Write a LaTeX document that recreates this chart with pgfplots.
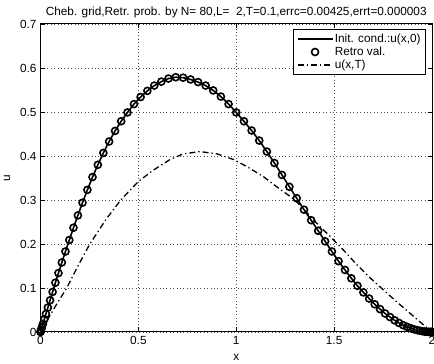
\documentclass[border=0pt]{standalone}
\usepackage{fontspec}
\setmainfont{Liberation Sans}
\usepackage{pgfplots}
\pgfplotsset{compat=1.18}
\usepackage{pgfplotstable}

\pgfplotsset{
  lineleg/.style={legend image code/.code={\draw[##1] (0bp,0bp) -- (35bp,0bp);}},
  markleg/.style={legend image code/.code={\draw[##1] plot coordinates {(17.5bp,0bp)};}},
}

\pgfplotstableread{
x u
0 0
0.00077 0.0012
0.00308 0.0046
0.00693 0.0104
0.01231 0.0184
0.01921 0.0287
0.02763 0.041
0.03754 0.0555
0.04894 0.072
0.06181 0.091
0.07612 0.112
0.09186 0.134
0.10899 0.158
0.12750 0.183
0.14736 0.209
0.16853 0.237
0.19098 0.265
0.21469 0.294
0.23959 0.323
0.26568 0.352
0.29289 0.380
0.32120 0.407
0.35055 0.433
0.38091 0.457
0.41221 0.479
0.44443 0.499
0.47750 0.518
0.51138 0.534
0.54601 0.548
0.58134 0.560
0.61732 0.569
0.65388 0.576
0.69098 0.579
0.72856 0.578
0.76655 0.574
0.80491 0.568
0.84357 0.560
0.88246 0.549
0.92154 0.535
0.96074 0.518
1.00000 0.499
1.03926 0.479
1.07846 0.458
1.11754 0.435
1.15643 0.410
1.19509 0.384
1.23345 0.357
1.27144 0.330
1.30902 0.304
1.34612 0.278
1.38268 0.254
1.41866 0.230
1.45399 0.206
1.48862 0.183
1.52250 0.161
1.55557 0.141
1.58779 0.122
1.61909 0.105
1.64945 0.090
1.67880 0.076
1.70711 0.063
1.73432 0.052
1.76041 0.042
1.78531 0.034
1.80902 0.0265
1.83147 0.0205
1.85264 0.0155
1.87250 0.0117
1.89101 0.0086
1.90814 0.0061
1.92388 0.0042
1.93819 0.0028
1.95106 0.0017
1.96246 0.0010
1.97237 0.0005
1.98079 0.0003
1.98769 0.0001
1.99307 0.0
1.99692 0.0
1.99923 0.0
2 0
}\initdata

\pgfplotstableread{
x u
0 0
0.04 0.031
0.074 0.057
0.134 0.100
0.19 0.149
0.252 0.200
0.338 0.258
0.41 0.300
0.5 0.342
0.577 0.368
0.662 0.392
0.73 0.405
0.815 0.410
0.901 0.405
0.986 0.392
1.054 0.376
1.139 0.353
1.207 0.330
1.30 0.300
1.42 0.243
1.48 0.217
1.548 0.186
1.616 0.153
1.684 0.123
1.753 0.095
1.821 0.068
1.889 0.042
1.957 0.016
2 0
}\finaldata

\begin{document}
\begin{tikzpicture}[font=\fontsize{11.8bp}{14bp}\selectfont]
\begin{axis}[
  name=ax,
  scale only axis,
  width=391.5bp, height=308bp,
  xmin=0, xmax=2, ymin=0, ymax=0.7,
  xtick={0,0.5,1,1.5,2},
  xticklabels={0,0.5,1,1.5,2},
  ytick={0,0.1,0.2,0.3,0.4,0.5,0.6,0.7},
  yticklabels={0,0.1,0.2,0.3,0.4,0.5,0.6,0.7},
  tick label style={font=\fontsize{11.8bp}{14bp}\selectfont},
  xticklabel style={yshift=-1bp},
  yticklabel style={xshift=-0.5bp},
  tick align=inside,
  major tick length=4.5bp,
  every tick/.style={black, line width=0.7bp},
  axis line style={line width=1bp},
  grid=major,
  major grid style={black!70, line width=0.7bp, dash pattern=on 0.8bp off 2.6bp},
  legend style={
    at={(1,1)}, anchor=north east, xshift=-6bp, yshift=-5bp,
    draw=black, line width=0.9bp,
    font=\fontsize{11.8bp}{14bp}\selectfont,
    inner xsep=3.5bp, inner ysep=3bp,
    row sep=0bp,
    cells={anchor=west},
    nodes={inner sep=1.5bp},
  },
]
\addplot[black, line width=1.6bp, lineleg]
  table[x=x,y=u] {\initdata};
\addlegendentry{Init. cond.:u(x,0)}
\addplot[black, only marks, mark=o, mark size=3.5bp,
  mark options={line width=1.6bp}, markleg]
  table[x=x,y=u] {\initdata};
\addlegendentry{Retro val.}
\addplot[black, line width=1.3bp, dash pattern=on 6bp off 3bp on 1.3bp off 3bp, lineleg]
  table[x=x,y=u] {\finaldata};
\addlegendentry{u(x,T)}
\end{axis}
\node[anchor=base] at ([yshift=8.3bp]ax.north) {Cheb. grid,Retr. prob. by N= 80,L=\ \ 2,T=0.1,errc=0.00425,errt=0.000003};
\node[anchor=base] at ([yshift=-28.7bp]ax.south) {x};
\node[rotate=90] at ([xshift=-33.4bp]ax.west) {u};
\pgfresetboundingbox
\path[use as bounding box] ([xshift=-40.5bp,yshift=-32bp]ax.south west) rectangle ([xshift=2bp,yshift=24bp]ax.north east);
\end{tikzpicture}
\end{document}
